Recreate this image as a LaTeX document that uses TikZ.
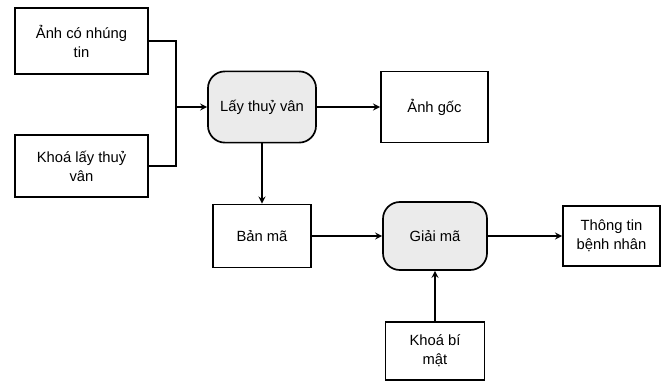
\documentclass[tikz,border=0pt]{standalone}
\usepackage{fontspec}
\setmainfont{Liberation Sans}
\usetikzlibrary{arrows}

\begin{document}
\begin{tikzpicture}[x=0.025cm,y=-0.025cm,line width=1.2pt,>=stealth,
  font=\fontsize{10.5}{13.5}\selectfont,
  hop/.style={draw,rectangle,align=center,inner sep=0pt},
  xuly/.style={draw,rounded corners=12pt,fill=gray!16,align=center,inner sep=0pt}]
\useasboundingbox (0,0) rectangle (667,383);
% cac khoi
\node[hop,minimum width=3.33cm,minimum height=1.65cm] (anh) at (81.5,41) {Ảnh có nhúng\\tin};
\node[hop,minimum width=3.33cm,minimum height=1.55cm] (khoa) at (81.5,166) {Khoá lấy thuỷ\\vân};
\node[xuly,minimum width=2.7cm,minimum height=1.78cm] (lay) at (262,107) {Lấy thuỷ vân};
\node[hop,minimum width=2.68cm,minimum height=1.78cm] (goc) at (434.5,107) {Ảnh gốc};
\node[hop,minimum width=2.45cm,minimum height=1.58cm] (banma) at (262,236) {Bản mã};
\node[xuly,minimum width=2.6cm,minimum height=1.7cm] (giai) at (435,236) {Giải mã};
\node[hop,minimum width=2.43cm,minimum height=1.5cm] (tt) at (611.5,236) {Thông tin\\bệnh nhân};
\node[hop,minimum width=2.48cm,minimum height=1.45cm] (bimat) at (435,351) {Khoá bí\\mật};
\coordinate (noi) at (176,107);
% cac mui ten
\draw (anh.east) -- (anh.east -| noi) -- (khoa.east -| noi) -- (khoa.east);
\draw[->] (noi) -- (lay.west);
\draw[->] (lay.east) -- (goc.west);
\draw[->] (lay.south) -- (banma.north);
\draw[->] (banma.east) -- (giai.west);
\draw[->] (giai.east) -- (tt.west);
\draw[->] (bimat.north) -- (giai.south);
\end{tikzpicture}
\end{document}
